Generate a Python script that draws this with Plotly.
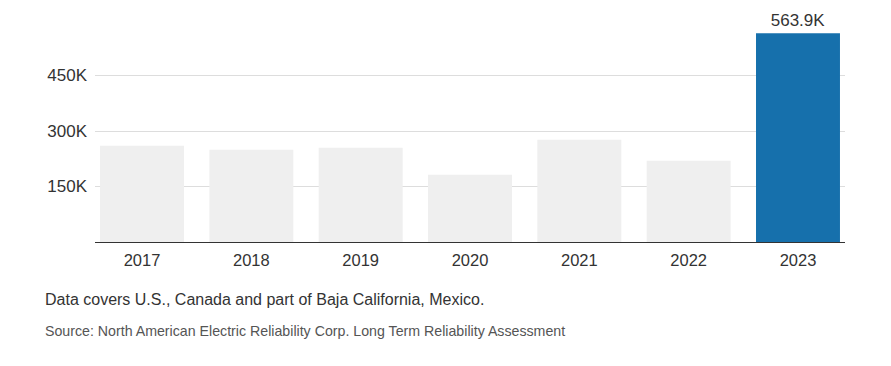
import plotly.graph_objects as go

years = ["2017", "2018", "2019", "2020", "2021", "2022", "2023"]
values = [260200, 249400, 254800, 181700, 276400, 219600, 563900]
highlight_year = "2023"
ytick_vals = [150000, 300000, 450000]
ytick_text = ["150K", "300K", "450K"]
note = "Data covers U.S., Canada and part of Baja California, Mexico."
source = "Source: North American Electric Reliability Corp. Long Term Reliability Assessment"

colors = ["#1670ac" if y == highlight_year else "#efefef" for y in years]
labels = [f"{v/1000:.1f}K" if y == highlight_year else "" for y, v in zip(years, values)]

FONT = "Liberation Sans, Arial, sans-serif"

fig = go.Figure(go.Bar(
    x=years, y=values, marker=dict(color=colors, line=dict(width=0)),
    width=0.768, text=labels, textposition="outside", cliponaxis=False,
    textfont=dict(size=17, color="#333333", family=FONT),
    hoverinfo="skip",
))

fig.update_layout(
    width=891, height=366,
    margin=dict(l=87, r=54, t=12, b=132),
    paper_bgcolor="white", plot_bgcolor="white",
    showlegend=False,
    font=dict(family=FONT, size=16, color="#333333"),
    xaxis=dict(
        type="category", range=[-0.43, 6.43], showgrid=False,
        showline=True, linecolor="#333333", linewidth=1,
        ticks="", tickfont=dict(size=16.5, color="#333333"),
        ticklabelstandoff=3,
    ),
    yaxis=dict(
        range=[0, 600000], tickvals=ytick_vals, ticktext=ytick_text,
        showgrid=True, gridcolor="#dddddd", gridwidth=1,
        zeroline=False, showline=False, ticks="",
        tickfont=dict(size=17, color="#333333"),
        ticklabelstandoff=7,
    ),
    annotations=[
        dict(text=note, xref="paper", yref="paper", x=-52/750, y=-57/222,
             xanchor="left", yanchor="middle", showarrow=False,
             font=dict(size=16, color="#333333", family=FONT)),
        dict(text=source, xref="paper", yref="paper", x=-52/750, y=-89/222,
             xanchor="left", yanchor="middle", showarrow=False,
             font=dict(size=14.2, color="#555555", family=FONT)),
    ],
)

fig.write_html("out.html")
